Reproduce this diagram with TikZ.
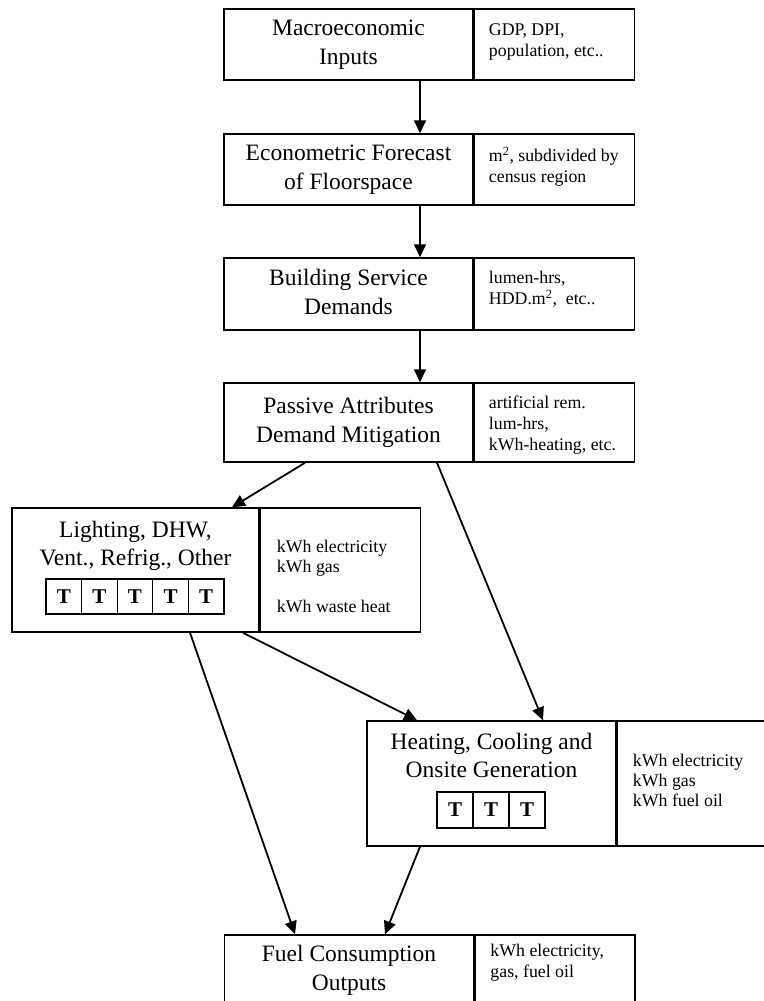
\documentclass[tikz,border=0pt]{standalone}
\usepackage{fontspec}
\setmainfont{Liberation Serif}
\usetikzlibrary{arrows.meta,positioning}

\tikzset{
  stage/.style={draw, line width=1.5pt, minimum width=249pt, minimum height=71pt,
    inner sep=0pt, align=center, font=\fontsize{23.5}{29}\selectfont,
    execute at begin node={\rule{0pt}{20pt}}, execute at end node={\rule[-4pt]{0pt}{4pt}}},
  infobox/.style={draw, line width=1.5pt, minimum width=160pt, inner sep=0pt, anchor=north west},
  note/.style={anchor=north west, inner sep=0pt, align=left, font=\fontsize{17.8}{21}\selectfont},
  heading/.style={inner sep=0pt, align=center, font=\fontsize{23.5}{28}\selectfont},
  tcell/.style={draw, line width=1.3pt, minimum width=35.6pt, minimum height=35pt,
    inner sep=0pt, font=\fontsize{21}{21}\selectfont\bfseries},
  flow/.style={-{Triangle[length=13pt,width=12pt]}, line width=1.8pt},
}

\begin{document}
\begin{tikzpicture}[x=1pt,y=-1pt]
    \useasboundingbox (0,0) rectangle (763,1001);

    % top chain
    \node[stage] (macro) at (348.5,44.5) {Macroeconomic\\Inputs};
    \node[infobox, minimum height=71pt] (macroR) at (macro.north east) {};
    \node[note] (macroN) at ([shift={(15,15)}]macroR.north west) {GDP, DPI,\\population, etc..};

    \node[stage] (floor) at (348.5,169.5) {Econometric Forecast\\of Floorspace};
    \node[infobox, minimum height=71pt] (floorR) at (floor.north east) {};
    \node[note] (floorN) at ([shift={(15,14)}]floorR.north west) {m\textsuperscript{2}, subdivided by\\census region};

    \node[stage, minimum height=72pt] (service) at (348.5,294) {Building Service\\Demands};
    \node[infobox, minimum height=72pt] (serviceR) at (service.north east) {};
    \node[note] (serviceN) at ([shift={(15,14)}]serviceR.north west) {lumen-hrs,\\HDD.m\textsuperscript{2},~ etc..};

    \node[stage, minimum height=79pt] (passive) at (348.5,422.5) {Passive Attributes\\Demand Mitigation};
    \node[infobox, minimum height=79pt] (passiveR) at (passive.north east) {};
    \node[note] (passiveN) at ([shift={(15,14)}]passiveR.north west) {artificial rem.\\lum-hrs,\\kWh-heating, etc.};

    % end uses
    \node[stage, minimum width=247pt, minimum height=124pt] (light) at (135.5,570) {};
    \node[heading, below=14pt of light.north] (lightH) {Lighting, DHW,\\Vent., Refrig., Other};
    \foreach \x [count=\i] in {63.8,99.4,135,170.6,206.2}{
        \node[tcell] (lightT\i) at (\x,596.5) {T};
    }
    \node[infobox, minimum height=124pt] (lightR) at (light.north east) {};
    \node[note, font=\fontsize{17.8}{20}\selectfont] (lightN) at ([shift={(17,33)}]lightR.north west)
        {kWh electricity\\kWh gas\\[20pt]kWh waste heat};

    \node[stage, minimum height=125pt] (heat) at (491.5,783.5) {};
    \node[heading, below=13pt of heat.north] (heatH) {Heating, Cooling and\\Onsite Generation};
    \foreach \x [count=\i] in {455,491,527}{
        \node[tcell, minimum width=36pt, minimum height=36pt] (heatT\i) at (\x,810) {T};
    }
    \node[infobox, minimum height=125pt] (heatR) at (heat.north east) {};
    \node[note, font=\fontsize{17.8}{20}\selectfont] (heatN) at ([shift={(16,34)}]heatR.north west)
        {kWh electricity\\kWh gas\\kWh fuel oil};

    % outputs
    \node[stage] (fuel) at (349,970.5) {Fuel Consumption\\Outputs};
    \node[infobox, minimum height=71pt] (fuelR) at (fuel.north east) {};
    \node[note] (fuelN) at ([shift={(16,10)}]fuelR.north west) {kWh electricity,\\gas, fuel oil};

    % arrows
    \draw[flow] ([xshift=71.5pt]macro.south) -- ([xshift=71.5pt]floor.north);
    \draw[flow] ([xshift=71.5pt]floor.south) -- ([xshift=71.5pt]service.north);
    \draw[flow] ([xshift=71.5pt]service.south) -- ([xshift=71.5pt]passive.north);
    \draw[flow] ([xshift=-43.5pt]passive.south) -- ([xshift=96.5pt]light.north);
    \draw[flow] ([xshift=88.5pt]passive.south) -- ([xshift=51.5pt]heat.north);
    \draw[flow] ([xshift=107.5pt]light.south) -- ([xshift=-74.5pt]heat.north);
    \draw[flow] ([xshift=54.5pt]light.south) -- ([xshift=-54pt]fuel.north);
    \draw[flow] ([xshift=-71.5pt]heat.south) -- ([xshift=36pt]fuel.north);

\end{tikzpicture}
\end{document}
